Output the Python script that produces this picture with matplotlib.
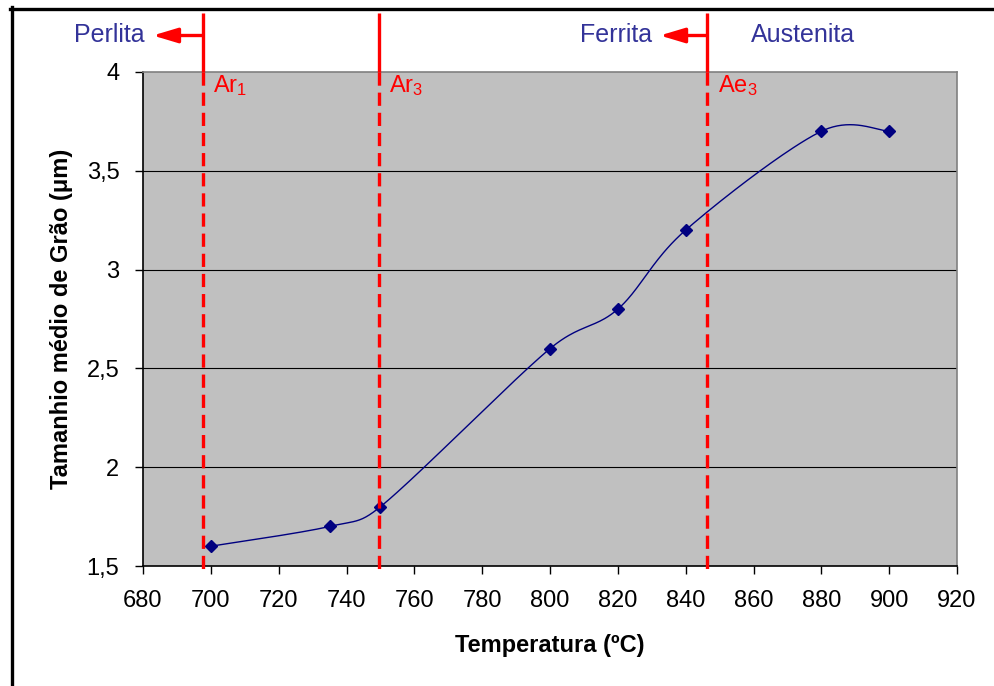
import numpy as np
import matplotlib
matplotlib.use("Agg")
import matplotlib.pyplot as plt
import matplotlib.transforms as mtransforms
from matplotlib.lines import Line2D
from matplotlib.patches import ArrowStyle

plt.rcParams['font.family'] = ['Liberation Sans', 'DejaVu Sans']
plt.rcParams['mathtext.fontset'] = 'custom'
plt.rcParams['mathtext.rm'] = 'Liberation Sans'
plt.rcParams['mathtext.it'] = 'Liberation Sans:italic'
plt.rcParams['lines.scale_dashes'] = False

# ---- data ----
temperature = [700, 735, 750, 800, 820, 840, 880, 900]
grain_size = [1.6, 1.7, 1.8, 2.6, 2.8, 3.2, 3.7, 3.7]
x_ticks = [680, 700, 720, 740, 760, 780, 800, 820, 840, 860, 880, 900, 920]
y_ticks = [1.5, 2.0, 2.5, 3.0, 3.5, 4.0]
y_tick_labels = ["1,5", "2", "2,5", "3", "3,5", "4"]
transition_temps = [697.6, 749.6, 846.4]
transition_labels = [r"Ar$_1$", r"Ar$_3$", r"Ae$_3$"]
phase_labels = ["Perlita", "Ferrita", "Austenita"]
x_label = "Temperatura (ºC)"
y_label = "Tamanhio médio de Grão (μm)"

XLIM = (680, 920)
YLIM = (1.5, 4.0)


def excel_smooth(ax, xs, ys, n=40):
    # Excel-like smoothed Bezier, control points computed in display space
    disp = ax.transData.transform(np.column_stack([xs, ys]).astype(float))
    ext = np.vstack([disp[0], disp, disp[-1]])
    out = []
    t = np.linspace(0, 1, n)[:, None]
    for i in range(len(disp) - 1):
        q0, p1, p2, q3 = ext[i], ext[i + 1], ext[i + 2], ext[i + 3]
        d12 = np.linalg.norm(p2 - p1)
        t1 = (p2 - q0) / 6.0
        t2 = (q3 - p1) / 6.0
        n1, n2 = np.linalg.norm(t1), np.linalg.norm(t2)
        if n1 > d12 / 2 and n1 > 0:
            t1 = t1 * (d12 / 2) / n1
        if n2 > d12 / 2 and n2 > 0:
            t2 = t2 * (d12 / 2) / n2
        c1 = p1 + t1
        c2 = p2 - t2
        seg = ((1 - t) ** 3) * p1 + 3 * ((1 - t) ** 2) * t * c1 + 3 * (1 - t) * t ** 2 * c2 + t ** 3 * p2
        out.append(seg if i == 0 else seg[1:])
    s = ax.transData.inverted().transform(np.vstack(out))
    return s[:, 0], s[:, 1]


fig = plt.figure(figsize=(9.94, 6.86), dpi=100)
fig.patch.set_facecolor('white')
ax = fig.add_axes([143 / 994, 1 - 566 / 686, (957 - 143) / 994, (566 - 72) / 686])
ax.set_facecolor('#C0C0C0')
ax.set_xlim(*XLIM)
ax.set_ylim(*YLIM)

ax.set_xticks(x_ticks)
ax.set_xticklabels([str(v) for v in x_ticks])
ax.set_yticks(y_ticks)
ax.set_yticklabels(y_tick_labels)
ax.tick_params(axis='both', labelsize=17, length=6, width=1, color='black', direction='out')
ax.tick_params(axis='x', pad=11)
ax.tick_params(axis='y', pad=11)

for yv in y_ticks[1:-1]:
    ax.axhline(yv, color='black', lw=0.8, zorder=1)

for side in ['top', 'right']:
    ax.spines[side].set_color('#808080')
    ax.spines[side].set_linewidth(1.2)
for side in ['left', 'bottom']:
    ax.spines[side].set_color('black')
    ax.spines[side].set_linewidth(1.2)

ax.set_xlabel(x_label, fontsize=17, fontweight='bold', labelpad=16)
ax.set_ylabel(y_label, fontsize=17, fontweight='bold', labelpad=10)

# data curve
sx, sy = excel_smooth(ax, temperature, grain_size)
ax.plot(sx, sy, color='#000080', lw=1.0, zorder=3)
ax.plot(temperature, grain_size, linestyle='none', marker='D', markersize=6.5,
        color='#000080', zorder=4)

# transition lines
trans = mtransforms.blended_transform_factory(ax.transData, ax.transAxes)
red = '#FF0000'
top_ax = (566 - 13) / 494
for xv, lab in zip(transition_temps, transition_labels):
    ax.plot([xv, xv], [1.0, -0.006], transform=trans, color=red, lw=2.4,
            dashes=(9.5, 5), clip_on=False, zorder=5)
    ax.plot([xv, xv], [1.0, top_ax], transform=trans, color=red, lw=2.4,
            clip_on=False, zorder=5, solid_capstyle='butt')
    ax.text(xv + 3.0, 0.960, lab, transform=trans, color=red, fontsize=17,
            ha='left', va='baseline', zorder=6)

# arrows
arrow_y = (566 - 35.5) / 494
style = ArrowStyle('-|>', head_length=1.5, head_width=0.45)
for x_from, x_to in [(transition_temps[0], 682.9), (transition_temps[2], 832.4)]:
    ax.annotate('', xy=(x_to, arrow_y), xytext=(x_from, arrow_y),
                xycoords=trans, textcoords=trans,
                arrowprops=dict(arrowstyle=style, color=red, lw=2.4,
                                shrinkA=0, shrinkB=0, mutation_scale=10),
                annotation_clip=False)

label_y = (566 - 42) / 494
blue = '#333399'
ax.text(680.6, label_y, phase_labels[0], transform=trans, color=blue, fontsize=18,
        ha='right', va='baseline')
ax.text(830.1, label_y, phase_labels[1], transform=trans, color=blue, fontsize=18,
        ha='right', va='baseline')
ax.text(859.2, label_y, phase_labels[2], transform=trans, color=blue, fontsize=18,
        ha='left', va='baseline')

# outer frame (top and left)
fig.add_artist(Line2D([10 / 994, 1.0], [1 - 8.5 / 686, 1 - 8.5 / 686],
                      transform=fig.transFigure, color='black', lw=2.4))
fig.add_artist(Line2D([11.5 / 994, 11.5 / 994], [0.0, 1 - 7.3 / 686],
                      transform=fig.transFigure, color='black', lw=2.4))

fig.savefig('out.png', dpi=100)
